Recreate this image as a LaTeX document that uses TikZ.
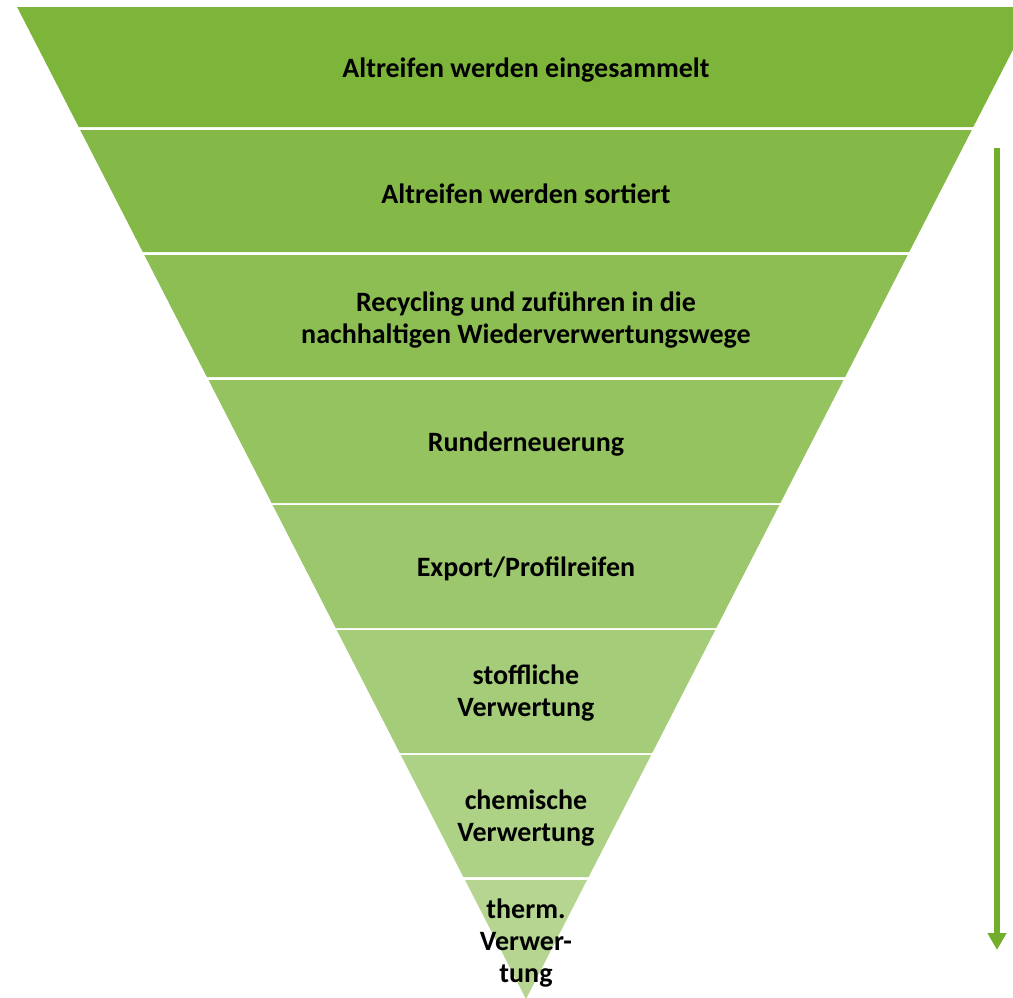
\documentclass[tikz,border=0pt]{standalone}
\usepackage{fontspec}
\setmainfont{Carlito}
\usetikzlibrary{arrows.meta}
\definecolor{topgreen}{RGB}{125,181,59}
\definecolor{lowgreen}{RGB}{181,213,145}
\definecolor{arrowgreen}{RGB}{114,174,44}
\tikzset{
  layertext/.style={align=center, text=black, font=\bfseries\fontsize{21}{24}\selectfont},
}
\begin{document}
\begin{tikzpicture}[x=0.75pt,y=-0.75pt]
\useasboundingbox (0,0) rectangle (1013,997);
\clip (0,0) rectangle (1013,997);

%layers
\fill[topgreen] (17.1,7)--(1034.9,7)--(973.3,127)--(78.7,127)--cycle;
\fill[lowgreen!14!topgreen] (80.2,130)--(971.8,130)--(909.2,252)--(142.8,252)--cycle;
\fill[lowgreen!29!topgreen] (144.3,255)--(907.7,255)--(845.1,377)--(206.9,377)--cycle;
\fill[lowgreen!43!topgreen] (208.5,380)--(843.5,380)--(780.4,503)--(271.6,503)--cycle;
\fill[lowgreen!57!topgreen] (272.6,505)--(779.4,505)--(716.3,628)--(335.7,628)--cycle;
\fill[lowgreen!71!topgreen] (336.7,630)--(715.3,630)--(652.2,753)--(399.8,753)--cycle;
\fill[lowgreen!86!topgreen] (400.8,755)--(651.2,755)--(588.6,877)--(463.4,877)--cycle;
\fill[lowgreen] (465,880)--(587,880)--(526,999)--cycle;

%labels
\node[layertext] (collect) at (526,70) {Altreifen werden eingesammelt};
\node[layertext] (sort) at (526,194) {Altreifen werden sortiert};
\node[layertext] (recycle) at (526,320) {Recycling und zuführen in die\\nachhaltigen Wiederverwertungswege};
\node[layertext] (retread) at (526,444) {Runderneuerung};
\node[layertext] (export) at (526,569) {Export/Profilreifen};
\node[layertext] (material) at (526,693) {stoffliche\\Verwertung};
\node[layertext] (chemical) at (526,818) {chemische\\Verwertung};
\node[layertext] (thermal) at (526,943) {therm.\\Verwer-\\tung};

%arrow
\coordinate (arrtop) at (997,148);
\coordinate (arrbot) at (997,950);
\draw[arrowgreen, line width=4.5pt, -{Triangle[width=13.5pt,length=12.75pt]}] (arrtop)--(arrbot);
\end{tikzpicture}
\end{document}
